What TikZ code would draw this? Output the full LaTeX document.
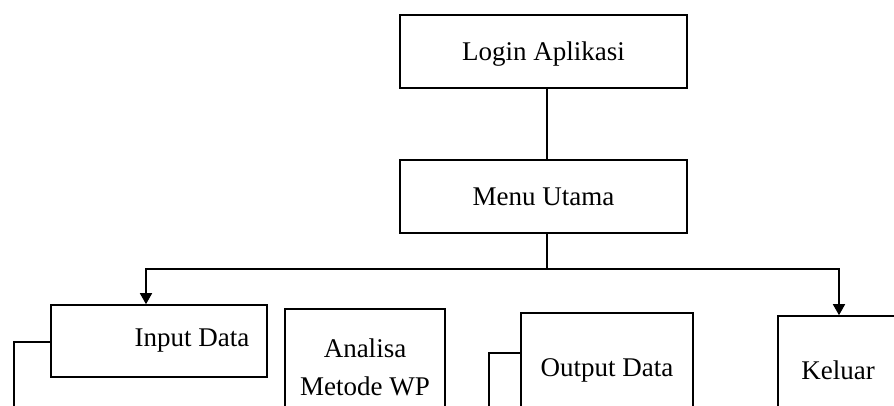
\documentclass[tikz,border=0pt]{standalone}
\usepackage{fontspec}
\setmainfont{Liberation Serif}
\usetikzlibrary{arrows.meta}
\begin{document}
\begin{tikzpicture}[x=1pt,y=-1pt,
  box/.style={draw,line width=1.6pt,rectangle,inner sep=0pt,
    font=\fontsize{27}{38}\selectfont,align=center},
  lbl/.style={inner sep=0pt,font=\fontsize{27}{38}\selectfont},
  link/.style={line width=1.6pt},
  arr/.style={line width=1.6pt,-{Triangle[width=12pt,length=11pt]}}]
\useasboundingbox (0,0) rectangle (894,405);
\clip (0,0) rectangle (894,405);

% top level
\node[box,minimum width=287pt,minimum height=73pt] (login) at (543.5,51.5) {};
\node[lbl] (logintxt) at (543.5,54) {Login Aplikasi};
\node[box,minimum width=287pt,minimum height=73pt] (menu) at (543.5,196.5) {Menu Utama};

% sub menus (lower parts run past the frame)
\node[box,minimum width=216pt,minimum height=72pt] (input) at (159,341) {};
\node[lbl] (inputtxt) at (192,341) {Input Data};
\node[box,minimum width=160pt,minimum height=116pt] (analisa) at (365,367) {Analisa\\Metode WP};
\node[box,minimum width=172pt,minimum height=114pt] (output) at (607,370) {Output Data};
\node[box,minimum width=120pt,minimum height=108pt] (keluar) at (838,370) {Keluar};

% connectors
\coordinate (split) at (547,269);
\coordinate (inturn) at (146,269);
\coordinate (outturn) at (839,269);
\draw[link] (login.south -| split) -- (menu.north -| split);
\draw[link] (menu.south -| split) -- (split);
\draw[arr] (split) -- (inturn) -- (inturn |- input.north);
\draw[arr] (split) -- (outturn) -- (outturn |- keluar.north);

% side branches leaving the frame
\coordinate (inleft) at (14,342);
\coordinate (inend) at (14,420);
\draw[link] (input.west |- inleft) -- (inleft) -- (inend);
\coordinate (outleft) at (489,353);
\coordinate (outend) at (489,420);
\draw[link] (output.west |- outleft) -- (outleft) -- (outend);
\end{tikzpicture}
\end{document}
